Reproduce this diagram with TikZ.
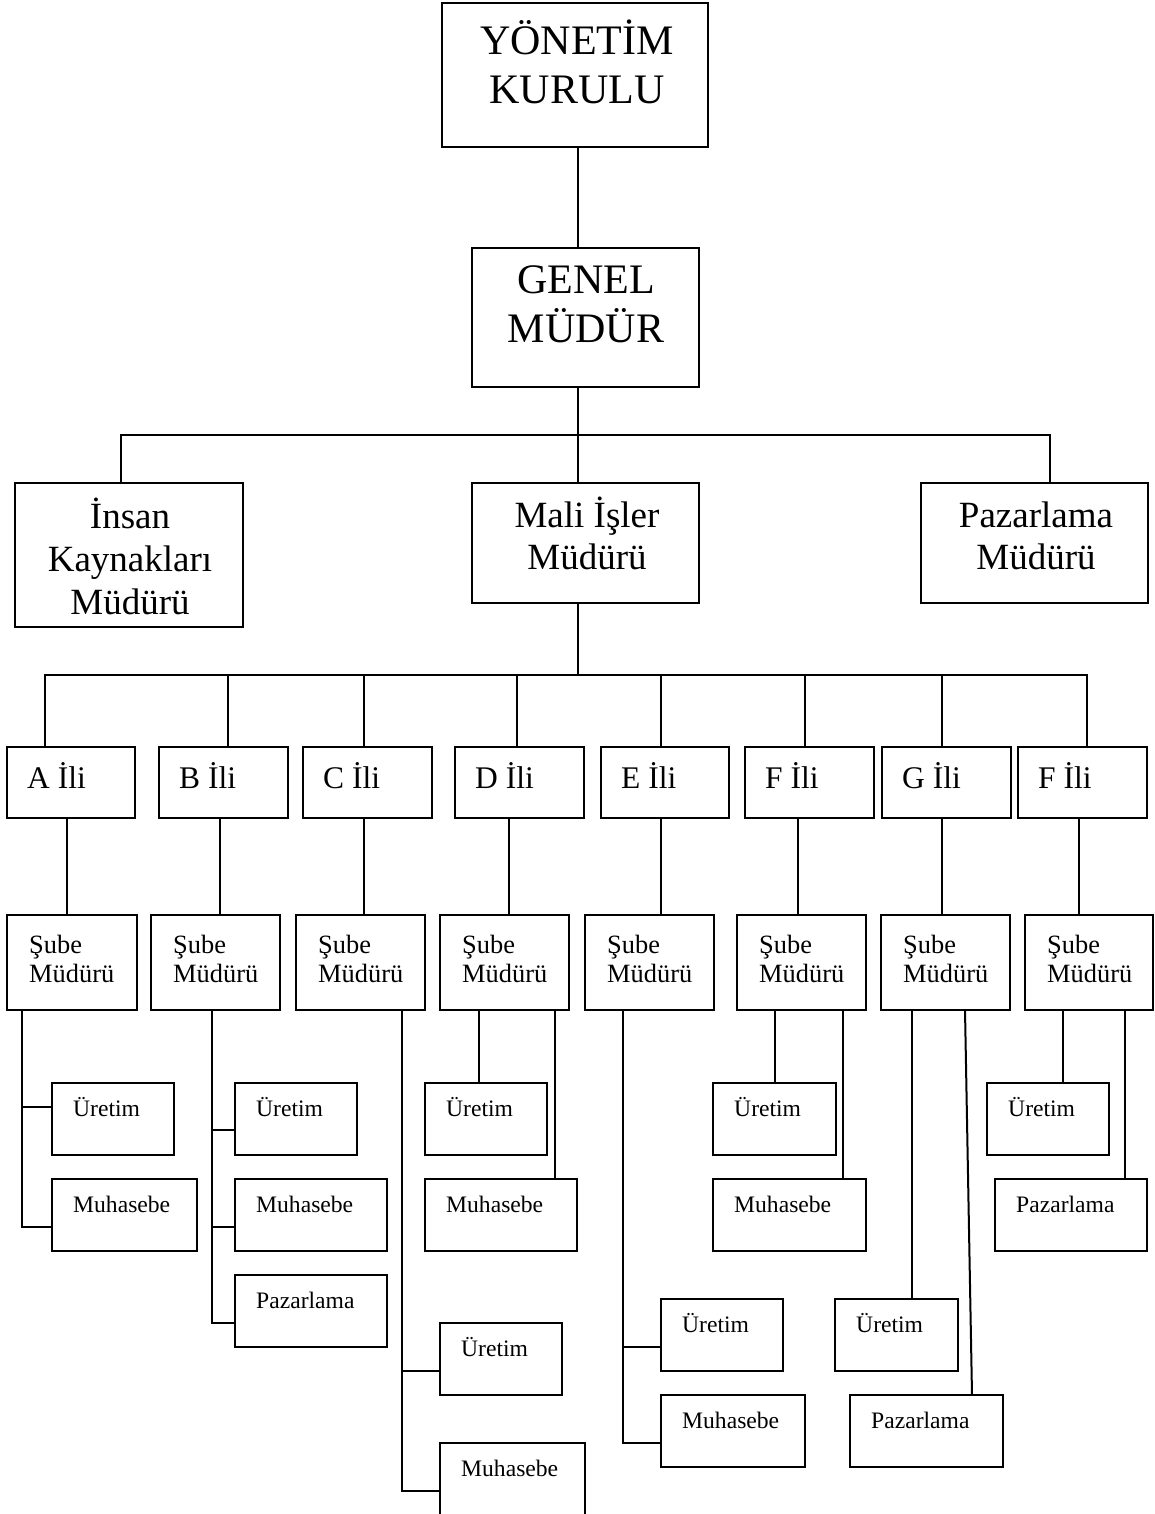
\documentclass[tikz,border=0pt]{standalone}
\usepackage{fontspec}
\setmainfont{Liberation Serif}
\begin{document}
\begin{tikzpicture}[x=1pt,y=-1pt,
  box/.style 2 args={draw, line width=2.2pt, inner sep=0pt, outer sep=0pt,
    anchor=north west, minimum width=#1pt, minimum height=#2pt},
  link/.style={line width=2pt},
  tbig/.style={font=\fontsize{42}{49}\selectfont, inner sep=0pt, anchor=base},
  tmid/.style={font=\fontsize{37}{43}\selectfont, inner sep=0pt, anchor=base},
  tprov/.style={font=\fontsize{31.5}{36}\selectfont, inner sep=0pt, anchor=base west},
  tsube/.style={font=\fontsize{26.4}{29}\selectfont, inner sep=0pt, anchor=base west},
  tsub/.style={font=\fontsize{23.6}{27}\selectfont, inner sep=0pt, anchor=base west},
]
\useasboundingbox (0,0) rectangle (1154,1514);
\clip (0,0) rectangle (1154,1514);
\fill[white] (0,0) rectangle (1154,1514);

% ---------- upper levels ----------
\node[box={266}{144}] (yk) at (442,3) {};
\node[box={227}{139}] (gm) at (472,248) {};
\node[box={228}{144}] (ik) at (15,483) {};
\node[box={227}{120}] (mi) at (472,483) {};
\node[box={227}{120}] (pm) at (921,483) {};

\node[tbig] (t-yk1) at (577,55) {YÖNETİM};
\node[tbig] (t-yk2) at (577,104) {KURULU};
\node[tbig] (t-gm1) at (586,293) {GENEL};
\node[tbig] (t-gm2) at (586,342) {MÜDÜR};
\node[tmid] (t-ik1) at (130,528) {İnsan};
\node[tmid] (t-ik2) at (130,571) {Kaynakları};
\node[tmid] (t-ik3) at (130,614) {Müdürü};
\node[tmid] (t-mi1) at (587,527) {Mali İşler};
\node[tmid] (t-mi2) at (587,569) {Müdürü};
\node[tmid] (t-pm1) at (1036,527) {Pazarlama};
\node[tmid] (t-pm2) at (1036,569) {Müdürü};

% ---------- provinces ----------
\foreach \n/\x/\w/\t in {pA/7/128/A İli, pB/159/129/B İli, pC/303/129/C İli,
    pD/455/129/D İli, pE/601/128/E İli, pF/745/129/F İli,
    pG/882/129/G İli, pH/1018/129/F İli}{
  \node[box={\w}{71}] (\n) at (\x,747) {};
  \node[tprov] (t-\n) at ([shift={(20,41)}]\n.north west) {\t};
}

% ---------- branch managers ----------
\foreach \n/\x/\w in {sA/7/130, sB/151/129, sC/296/129, sD/440/129,
    sE/585/129, sF/737/129, sG/881/129, sH/1025/128}{
  \node[box={\w}{95}] (\n) at (\x,915) {};
  \node[tsube] (t1-\n) at ([shift={(22,38)}]\n.north west) {Şube};
  \node[tsube] (t2-\n) at ([shift={(22,67)}]\n.north west) {Müdürü};
}

% ---------- departments ----------
\foreach \n/\x/\y/\w/\t in {
    uA/52/1083/122/Üretim, mA/52/1179/145/Muhasebe,
    uB/235/1083/122/Üretim, mB/235/1179/152/Muhasebe, zB/235/1275/152/Pazarlama,
    uC/440/1323/122/Üretim, mC/440/1443/145/Muhasebe,
    uD/425/1083/122/Üretim, mD/425/1179/152/Muhasebe,
    uE/661/1299/122/Üretim, mE/661/1395/144/Muhasebe,
    uF/713/1083/123/Üretim, mF/713/1179/153/Muhasebe,
    uG/835/1299/123/Üretim, zG/850/1395/153/Pazarlama,
    uH/987/1083/122/Üretim, zH/995/1179/152/Pazarlama}{
  \node[box={\w}{72}] (\n) at (\x,\y) {};
  \node[tsub] (t-\n) at ([shift={(21,33)}]\n.north west) {\t};
}

% ---------- connector columns ----------
\coordinate (b1) at (578,435);
\coordinate (b2) at (578,675);
\coordinate (kik) at (121,0);
\coordinate (kpm) at (1050,0);
\foreach \n/\x in {A/45, B/228, C/364, D/517, E/661, F/805, G/942, H/1087}
  {\coordinate (top\n) at (\x,0);}
\foreach \n/\x in {A/67, B/220, C/364, D/509, E/661, F/798, G/942, H/1079}
  {\coordinate (bot\n) at (\x,0);}
\foreach \n/\x in {kA/22, kB/212, kC/402, kD1/479, kD2/555, kE/623,
    kF1/775, kF2/843, kG1/912, kG2/965, kG3/972, kH1/1063, kH2/1125}
  {\coordinate (\n) at (\x,0);}

% ---------- connectors ----------
\draw[link] (yk.south -| b1) -- (gm.north -| b1);
\draw[link] (gm.south -| b1) -- (b1);
\draw[link] (b1) -| (ik.north -| kik);
\draw[link] (b1) -| (pm.north -| kpm);
\draw[link] (b1) -- (mi.north -| b1);
\draw[link] (mi.south -| b1) -- (b2);

\foreach \n in {A,B,C,D,E,F,G,H}{
  \draw[link] (b2) -| (p\n.north -| top\n);
  \draw[link] (p\n.south -| bot\n) -- (s\n.north -| bot\n);
}

\draw[link] (sA.south -| kA) |- ([yshift=12pt]uA.west);
\draw[link] (sA.south -| kA) |- ([yshift=-12pt]mA.west);

\draw[link] (sB.south -| kB) |- ([yshift=-11pt]uB.west);
\draw[link] (sB.south -| kB) |- ([yshift=-12pt]mB.west);
\draw[link] (sB.south -| kB) |- ([yshift=-12pt]zB.west);

\draw[link] (sC.south -| kC) |- ([yshift=-12pt]uC.west);
\draw[link] (sC.south -| kC) |- ([yshift=-12pt]mC.west);

\draw[link] (sD.south -| kD1) -- (uD.north -| kD1);
\draw[link] (sD.south -| kD2) -- (mD.north -| kD2);

\draw[link] (sE.south -| kE) |- ([yshift=-12pt]uE.west);
\draw[link] (sE.south -| kE) |- ([yshift=-12pt]mE.west);

\draw[link] (sF.south -| kF1) -- (uF.north -| kF1);
\draw[link] (sF.south -| kF2) -- (mF.north -| kF2);

\draw[link] (sG.south -| kG1) -- (uG.north -| kG1);
\draw[link] (sG.south -| kG2) -- (zG.north -| kG3);

\draw[link] (sH.south -| kH1) -- (uH.north -| kH1);
\draw[link] (sH.south -| kH2) -- (zH.north -| kH2);
\end{tikzpicture}
\end{document}
